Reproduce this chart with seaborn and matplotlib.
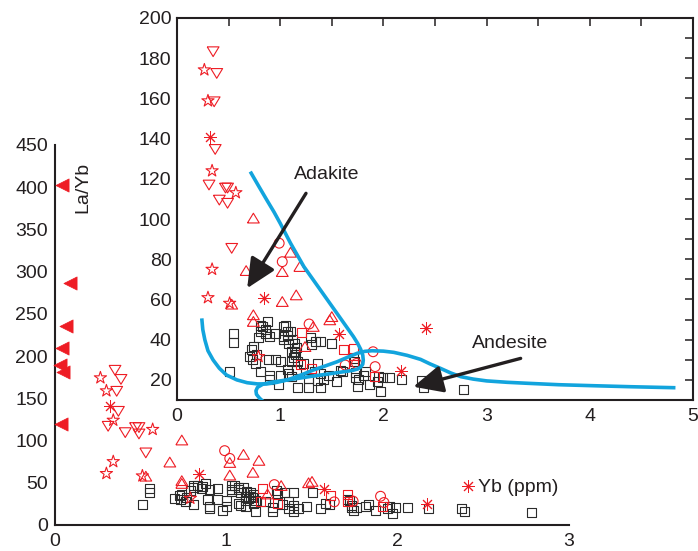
import numpy as np
import pandas as pd
import matplotlib
matplotlib.use("Agg")
import matplotlib.pyplot as plt
import seaborn as sns
from matplotlib.ticker import MultipleLocator

sns.set_style("white")
plt.rcParams['font.family'] = ['Liberation Sans', 'DejaVu Sans']

# ---------------- data ----------------
# black open squares (Yb ppm, La/Yb)
sq_x = [0.55, 0.55, 0.51, 0.70, 0.725, 0.77, 0.73, 0.76, 0.74, 0.81, 0.83, 0.88, 0.81, 0.855,
        0.79, 0.90, 0.86, 0.95, 0.89, 0.95, 1.00, 0.81, 0.90, 0.98, 0.90, 1.00, 1.03, 1.07,
        1.10, 1.07, 1.03, 1.12, 1.08, 1.14, 1.03, 1.05, 1.11, 1.14, 1.13, 1.11, 1.16, 1.15,
        1.08, 1.11, 1.07, 1.16, 1.17, 1.23, 1.33, 1.36, 1.39, 1.39, 1.17, 1.27, 1.27, 1.36,
        1.30, 1.34, 1.29, 1.39, 1.50, 1.47, 1.42, 1.55, 1.60, 1.71, 1.72, 1.83, 1.73, 1.76,
        1.745, 1.87, 1.81, 1.73, 1.95, 1.99, 2.06, 1.97, 2.18, 2.37, 2.39, 2.78, 1.58, 1.94]
sq_y = [43.2, 38.5, 24.1, 31.6, 34.9, 32.5, 29.9, 28.0, 36.5, 47.3, 46.5, 49.0, 44.0, 43.2,
        41.2, 41.5, 45.0, 43.2, 29.9, 29.9, 29.0, 24.1, 20.0, 17.5, 22.0, 22.4, 46.5, 44.0,
        44.0, 42.3, 40.0, 40.0, 38.2, 38.2, 41.5, 47.0, 34.0, 34.0, 31.1, 29.0, 36.0, 32.5,
        23.4, 21.9, 25.0, 25.0, 29.0, 28.2, 24.1, 28.2, 23.3, 16.0, 16.0, 16.0, 20.5, 19.5,
        37.7, 39.0, 41.0, 39.0, 38.2, 22.4, 20.0, 19.0, 24.0, 30.7, 29.0, 24.1, 21.0, 20.3,
        16.6, 17.5, 22.0, 23.5, 21.6, 21.0, 21.0, 14.1, 20.0, 19.6, 16.3, 15.3, 24.9, 19.0]
# red open squares
rsq_x = [1.21, 1.61, 1.71, 1.91, 1.20, 1.30, 1.71]
rsq_y = [43.5, 35.2, 35.7, 21.6, 27.6, 25.7, 27.6]
# red open circles
cir_x = [0.99, 1.02, 1.28, 1.63, 1.90, 1.92, 1.74]
cir_y = [88.0, 78.8, 47.8, 27.4, 34.0, 26.6, 28.2]
# red open up-triangles
tup_x = [0.74, 0.67, 1.10, 1.02, 1.19, 1.02, 1.155, 0.53, 0.74, 0.74, 1.32, 1.48, 1.50, 1.24]
tup_y = [100.4, 74.3, 83.4, 73.8, 76.3, 58.9, 62.2, 57.6, 52.3, 49.0, 46.5, 49.8, 51.4, 36.5]
# red open down-triangles
tdn_x = [0.35, 0.385, 0.36, 0.37, 0.31, 0.47, 0.49, 0.41, 0.49, 0.53]
tdn_y = [183.3, 172.5, 158.4, 134.7, 117.0, 115.5, 115.5, 109.5, 107.9, 85.5]
# red open stars
star_x = [0.265, 0.30, 0.34, 0.57, 0.34, 0.30, 0.51, 0.79]
star_y = [174.2, 158.8, 124.0, 113.1, 75.0, 60.9, 58.1, 31.6]
# red asterisks
ast_x = [0.32, 0.84, 1.57, 2.41, 2.17]
ast_y = [141.0, 60.9, 42.7, 45.7, 24.4]
# red filled left triangles (main plot only)
ftri_x = [0.04, 0.085, 0.062, 0.04, 0.03, 0.045, 0.035]
ftri_y = [403.0, 287.0, 235.0, 210.0, 189.0, 181.0, 120.0]

# field boundaries (inset)
adak_x = [0.71, 0.79, 0.87, 0.94, 1.00, 1.10, 1.23, 1.31, 1.39, 1.47, 1.55, 1.63, 1.71,
          1.75, 1.78, 1.80, 1.805, 1.80, 1.78, 1.75, 1.70, 1.62, 1.50, 1.32, 1.15, 1.00,
          0.90, 0.83, 0.78, 0.765, 0.77, 0.80, 0.84]
adak_y = [123.6, 116.5, 109.5, 103.5, 97.9, 88.0, 76.3, 70.5, 64.7, 58.9, 53.1, 47.3, 41.5,
          38.2, 35.2, 32.3, 29.8, 27.8, 26.4, 25.4, 24.7, 24.1, 23.2, 21.9, 20.6, 19.5,
          18.7, 17.8, 16.3, 14.6, 12.8, 10.9, 9.0]
ande_x = [0.24, 0.25, 0.27, 0.30, 0.35, 0.41, 0.48, 0.58, 0.68, 0.78, 0.87, 0.97, 1.07,
          1.20, 1.32, 1.44, 1.55, 1.65, 1.745, 1.82, 1.89, 2.00, 2.10, 2.23, 2.36, 2.45,
          2.55, 2.65, 2.75, 2.87, 3.00, 3.20, 3.40, 3.70, 4.04, 4.40, 4.83]
ande_y = [50.6, 45.0, 39.9, 34.5, 29.9, 25.8, 22.4, 20.0, 18.6, 18.0, 18.0, 18.8, 20.0,
          22.4, 24.9, 27.0, 29.0, 31.2, 33.2, 34.2, 34.5, 34.3, 33.7, 32.2, 30.2, 28.0,
          25.8, 23.5, 21.6, 20.4, 19.5, 18.8, 18.3, 17.6, 17.1, 16.6, 16.1]

RED = '#ee1c24'
BLK = '#2b2b2b'
BLUE = '#12a4dd'

tri_dn = [(-1, 0.8), (1, 0.8), (0, -0.85), (-1, 0.8)]
tri_upm = [(-1, -0.8), (1, -0.8), (0, 0.85), (-1, -0.8)]

def draw_points(ax):
    open_series = [
        (sq_x, sq_y, 's', BLK, 42),
        (rsq_x, rsq_y, 's', RED, 42),
        (cir_x, cir_y, 'o', RED, 50),
        (tup_x, tup_y, tri_upm, RED, 72),
        (tdn_x, tdn_y, tri_dn, RED, 72),
        (star_x, star_y, '*', RED, 85),
    ]
    for xs, ys, m, c, s in open_series:
        df = pd.DataFrame({'x': xs, 'y': ys})
        sns.scatterplot(data=df, x='x', y='y', ax=ax, marker=m, s=s,
                        color=c, facecolors='none', edgecolor=c, linewidth=0.8,
                        legend=False, zorder=3)
    df = pd.DataFrame({'x': ast_x, 'y': ast_y})
    sns.scatterplot(data=df, x='x', y='y', ax=ax, marker=(8, 2, 0), s=75,
                    color=RED, linewidth=0.7, legend=False, zorder=3)

fig = plt.figure(figsize=(6.98, 5.51), dpi=100)

# ---------------- main axes ----------------
ax = fig.add_axes([0.0788, 0.0472, 0.7364, 0.690])
draw_points(ax)
dff = pd.DataFrame({'x': ftri_x, 'y': ftri_y})
sns.scatterplot(data=dff, x='x', y='y', ax=ax, marker='<', s=90, color=RED,
                edgecolor=RED, linewidth=0.5, legend=False, zorder=3, clip_on=False)
ax.set_xlim(0, 3)
ax.set_ylim(0, 450)
for sp in ['top', 'right']:
    ax.spines[sp].set_visible(False)
for sp in ['left', 'bottom']:
    ax.spines[sp].set_linewidth(1.5)
    ax.spines[sp].set_color('#231f20')
ax.xaxis.set_major_locator(MultipleLocator(1))
ax.xaxis.set_minor_locator(MultipleLocator(0.5))
ax.yaxis.set_major_locator(MultipleLocator(50))
ax.yaxis.set_minor_locator(MultipleLocator(25))
ax.tick_params(which='both', direction='in', width=1.1, color='#231f20',
               labelsize=14, labelcolor='#231f20')
ax.tick_params(which='major', length=6)
ax.tick_params(which='minor', length=5)
ax.tick_params(axis='x', pad=6)
ax.tick_params(axis='y', pad=5)
ax.set_xlabel('')
ax.set_ylabel('')
ax.patch.set_alpha(0)
ax.text(2.47, 43.8, 'Yb (ppm)', fontsize=14, color='#231f20', ha='left', va='center')
fig.text(83 / 698, 1 - 187 / 551, 'La/Yb', rotation=90, fontsize=14, color='#231f20',
         ha='center', va='center')

# ---------------- inset axes ----------------
ins = fig.add_axes([177 / 698, 151 / 551, 516 / 698, 382 / 551])
ins.set_facecolor('white')
draw_points(ins)
ins.plot(adak_x, adak_y, color=BLUE, lw=2.6, solid_capstyle='butt',
         solid_joinstyle='round', zorder=4)
ins.plot(ande_x, ande_y, color=BLUE, lw=2.6, solid_capstyle='butt',
         solid_joinstyle='round', zorder=4)
ins.set_xlim(0, 5)
ins.set_ylim(10, 200)
for sp in ins.spines.values():
    sp.set_linewidth(1.5)
    sp.set_color('#231f20')
ins.xaxis.set_major_locator(MultipleLocator(1))
ins.xaxis.set_minor_locator(MultipleLocator(0.5))
ins.yaxis.set_major_locator(MultipleLocator(20))
ins.yaxis.set_minor_locator(MultipleLocator(10))
ins.tick_params(which='both', direction='in', width=1.1, color='#231f20',
                top=True, right=True, labelsize=14, labelcolor='#231f20')
ins.tick_params(which='both', length=6)
ins.tick_params(axis='x', pad=6)
ins.tick_params(axis='y', pad=4)
ins.set_xlabel('')
ins.set_ylabel('')

arrow_kw = dict(arrowstyle='-|>,head_length=0.9,head_width=0.42', lw=2.4,
                color='#231f20', mutation_scale=20, shrinkA=0, shrinkB=0)
ins.annotate('', xy=(0.68, 65.6), xytext=(1.25, 112.8), arrowprops=arrow_kw, zorder=5)
ins.annotate('', xy=(2.29, 16.6), xytext=(3.33, 30.7), arrowprops=arrow_kw, zorder=5)
ins.text(1.45, 122, 'Adakite', fontsize=14, color='#231f20', ha='center', va='center')
ins.text(3.23, 38.2, 'Andesite', fontsize=14, color='#231f20', ha='center', va='center')

fig.savefig('out.png', dpi=100)
